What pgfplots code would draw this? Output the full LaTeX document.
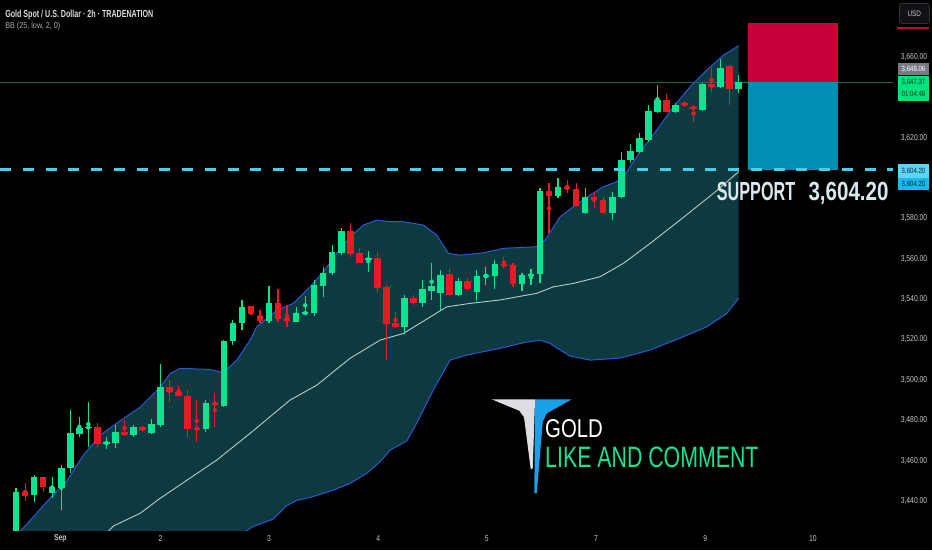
\documentclass[border=0pt]{standalone}
\usepackage{fontspec}
\setmainfont{Liberation Sans}
\newfontfamily\condfont{Liberation Sans}[FakeStretch=0.8]
\usepackage{graphicx}
\usepackage{pgfplots}
\pgfplotsset{compat=1.18}
\usepackage{pgfplotstable}

\definecolor{cgreen}{RGB}{10,228,145}
\definecolor{cred}{RGB}{235,25,35}
\definecolor{bandfill}{RGB}{12,58,64}
\definecolor{bandline}{RGB}{45,88,210}
\definecolor{basisline}{RGB}{185,205,205}
\definecolor{supcyan}{RGB}{70,208,232}
\definecolor{pline}{RGB}{30,105,85}
\definecolor{boxred}{RGB}{200,0,58}
\definecolor{boxblue}{RGB}{0,142,180}
\definecolor{axtext}{RGB}{200,202,208}
\definecolor{taggray}{RGB}{120,123,134}
\definecolor{taggreen}{RGB}{0,228,125}
\definecolor{tagcyanA}{RGB}{90,215,245}
\definecolor{tagcyanB}{RGB}{25,185,235}
\definecolor{logoblue}{RGB}{25,160,230}
\definecolor{logowhite}{RGB}{222,222,226}
\definecolor{suptext}{RGB}{215,232,238}
\definecolor{likegreen}{RGB}{20,228,145}

\pgfplotstableread{
i o h l c
0 3424.0 3446.4 3422.0 3444.4
2 3443.0 3452.8 3439.5 3451.9
4 3444.1 3452.1 3441.3 3446.9
5 3446.4 3457.8 3435.5 3456.5
6 3456.2 3485.0 3454.0 3473.5
7 3473.2 3481.7 3471.8 3476.3
8 3476.1 3489.2 3466.9 3476.8
10 3468.2 3471.8 3465.6 3469.2
11 3468.9 3477.6 3466.1 3474.0
13 3472.7 3477.6 3471.8 3476.5
15 3473.8 3480.6 3473.2 3478.1
16 3477.6 3507.8 3476.5 3496.6
21 3475.5 3490.0 3474.3 3488.7
23 3487.0 3519.7 3486.8 3519.4
24 3519.2 3529.6 3517.3 3528.3
25 3528.0 3539.6 3524.7 3536.2
28 3529.1 3546.5 3528.0 3537.9
31 3528.8 3536.2 3528.5 3533.0
32 3532.6 3541.5 3532.4 3533.6
33 3533.3 3549.5 3531.6 3547.0
34 3546.5 3556.1 3541.0 3552.8
35 3552.8 3566.8 3551.9 3563.5
36 3563.0 3575.1 3561.8 3573.9
39 3559.4 3564.0 3553.6 3560.2
43 3526.3 3542.0 3523.0 3540.7
45 3537.9 3549.5 3536.2 3545.0
46 3544.2 3557.7 3539.6 3546.6
47 3542.9 3554.4 3534.6 3551.9
49 3542.0 3550.3 3541.5 3549.1
51 3543.7 3554.4 3539.2 3551.6
52 3551.2 3555.7 3547.0 3552.0
53 3551.6 3559.4 3545.3 3557.4
56 3547.3 3552.8 3544.2 3551.9
57 3551.4 3554.8 3547.0 3552.4
58 3552.3 3594.9 3547.8 3593.7
60 3591.1 3599.9 3589.9 3595.7
63 3582.8 3594.9 3582.2 3590.7
66 3582.8 3593.2 3579.2 3590.7
67 3590.4 3613.0 3589.9 3608.9
68 3608.9 3616.7 3607.3 3613.5
69 3613.0 3622.2 3612.2 3619.7
70 3618.8 3636.2 3618.0 3633.2
71 3632.9 3646.1 3632.1 3638.7
73 3632.6 3637.0 3632.1 3636.2
76 3633.7 3647.2 3633.2 3646.4
78 3645.2 3658.8 3644.4 3654.8
80 3644.0 3651.0 3642.0 3647.4
}\greentab

\pgfplotstableread{
i o h l c
1 3444.4 3448.9 3440.0 3442.4
3 3451.9 3452.1 3444.4 3446.9
9 3476.5 3478.7 3466.9 3468.2
12 3474.1 3480.1 3472.2 3472.8
14 3476.5 3477.1 3474.6 3475.0
17 3496.6 3499.9 3489.2 3494.0
18 3494.1 3497.4 3491.5 3492.0
19 3492.1 3495.0 3471.0 3475.5
20 3476.3 3490.0 3469.3 3475.5
22 3488.7 3493.3 3476.8 3487.7
26 3536.4 3536.8 3532.1 3532.5
27 3531.5 3534.6 3528.0 3529.1
29 3537.9 3545.0 3528.8 3530.0
30 3530.5 3537.1 3526.0 3529.1
37 3573.9 3577.9 3561.0 3562.3
38 3562.7 3565.2 3557.7 3558.0
40 3560.2 3563.5 3542.9 3545.3
41 3546.2 3547.0 3509.8 3527.7
42 3528.3 3533.8 3525.5 3526.3
44 3540.4 3542.0 3537.1 3537.9
48 3552.3 3555.2 3541.5 3542.0
50 3549.1 3550.3 3544.2 3545.0
54 3557.4 3561.0 3555.3 3556.4
55 3556.9 3557.7 3546.1 3547.3
59 3593.7 3597.4 3572.6 3591.2
61 3595.7 3599.0 3592.4 3594.4
62 3594.4 3597.4 3585.8 3586.1
64 3590.7 3593.2 3585.0 3589.1
65 3589.4 3590.7 3582.2 3582.5
72 3638.7 3641.5 3632.1 3632.9
74 3637.0 3637.8 3635.3 3636.3
75 3635.3 3636.2 3627.9 3634.2
77 3646.4 3654.4 3642.8 3645.2
79 3655.5 3656.0 3636.2 3644.0
}\redtab

\begin{document}
\begin{tikzpicture}
\fill[black] (0,0) rectangle (932pt,550pt);
\begin{axis}[
  at={(0pt,20pt)}, anchor=south west,
  width=893pt, height=530pt, scale only axis,
  xmin=-1.771, xmax=97.08,
  ymin=3425.6, ymax=3688.2,
  axis line style={draw=none},
  major tick length=0pt,
  xtick={4.9,16,28,40.1,52.1,64.2,76.3,88.2},
  xticklabels={\textbf{Sep},2,3,4,5,7,9,10},
  ytick={3440,3460,3480,3500,3520,3540,3560,3580,3620,3660},
  yticklabels={{3,440.00},{3,460.00},{3,480.00},{3,500.00},{3,520.00},{3,540.00},{3,560.00},{3,580.00},{3,620.00},{3,660.00}},
  yticklabel pos=right,
  tick label style={font={\condfont\fontsize{8.5}{10}\selectfont}, color=axtext, inner sep=0pt},
  yticklabel style={anchor=center, xshift=21pt},
  xticklabel style={anchor=center, yshift=-8.7pt},
  clip=true,
]
% Bollinger band area (upper band forward, lower band backward)
\addplot[fill=bandfill, draw=none] coordinates {
(-1.77,3415) (1.00,3427.6) (3.76,3441.4) (5.61,3449.9) (7.45,3462.7) (9.30,3472.6) (11.15,3478.6) (13.73,3486.5) (15.94,3496.4) (17.05,3503.2) (18.15,3505.7) (21.47,3505.2) (22.91,3503.6) (24.43,3509.8) (25.90,3519.7) (26.64,3526.3) (28.86,3534.6) (30.70,3537.9) (32.54,3546.1) (34.02,3553.6) (35.50,3562.7) (36.97,3570.9) (38.44,3576.7) (39.93,3579.2) (41.40,3578.4) (42.87,3578.4) (45.09,3576.7) (46.57,3571.8) (47.85,3562.7) (49.15,3561.8) (51.73,3563.0) (53.94,3565.2) (57.64,3566.0) (58.56,3569.3) (60.22,3580.8) (61.69,3585.8) (63.54,3591.6) (65.01,3595.7) (66.49,3598.2) (67.60,3603.1) (69.07,3613.0) (70.92,3623.8) (72.76,3635.3) (74.61,3645.2) (76.46,3653.5) (78.29,3660.9) (80.00,3665.6)
(80.00,3540.5) (78.67,3532.9) (76.46,3526.3) (73.50,3520.7) (70.18,3514.8) (66.86,3510.8) (63.54,3509.8) (61.32,3511.8) (60.22,3514.8) (59.11,3518.1) (58.00,3519.7) (56.16,3518.4) (53.94,3516.0) (49.89,3512.3) (48.04,3509.8) (46.19,3495.0) (44.35,3478.5) (43.25,3469.7) (41.40,3465.2) (40.29,3459.4) (38.82,3453.7) (36.97,3448.7) (35.12,3445.4) (32.54,3441.7) (31.07,3440.3) (29.96,3437.7) (28.48,3431.0) (26.27,3427.4) (24.80,3423.1) (20.37,3410.7) (9.30,3390.9) (-1.77,3366)} -- cycle;
% upper band
\addplot[color=bandline, line width=1pt] coordinates {
(-1.77,3415) (1.00,3427.6) (3.76,3441.4) (5.61,3449.9) (7.45,3462.7) (9.30,3472.6) (11.15,3478.6) (13.73,3486.5) (15.94,3496.4) (17.05,3503.2) (18.15,3505.7) (21.47,3505.2) (22.91,3503.6) (24.43,3509.8) (25.90,3519.7) (26.64,3526.3) (28.86,3534.6) (30.70,3537.9) (32.54,3546.1) (34.02,3553.6) (35.50,3562.7) (36.97,3570.9) (38.44,3576.7) (39.93,3579.2) (41.40,3578.4) (42.87,3578.4) (45.09,3576.7) (46.57,3571.8) (47.85,3562.7) (49.15,3561.8) (51.73,3563.0) (53.94,3565.2) (57.64,3566.0) (58.56,3569.3) (60.22,3580.8) (61.69,3585.8) (63.54,3591.6) (65.01,3595.7) (66.49,3598.2) (67.60,3603.1) (69.07,3613.0) (70.92,3623.8) (72.76,3635.3) (74.61,3645.2) (76.46,3653.5) (78.29,3660.9) (80.00,3665.6)};
% lower band
\addplot[color=bandline, line width=1pt] coordinates {
(-1.77,3366) (9.30,3390.9) (20.37,3410.7) (24.80,3423.1) (26.27,3427.4) (28.48,3431.0) (29.96,3437.7) (31.07,3440.3) (32.54,3441.7) (35.12,3445.4) (36.97,3448.7) (38.82,3453.7) (40.29,3459.4) (41.40,3465.2) (43.25,3469.7) (44.35,3478.5) (46.19,3495.0) (48.04,3509.8) (49.89,3512.3) (53.94,3516.0) (56.16,3518.4) (58.00,3519.7) (59.11,3518.1) (60.22,3514.8) (61.32,3511.8) (63.54,3509.8) (66.86,3510.8) (70.18,3514.8) (73.50,3520.7) (76.46,3526.3) (78.67,3532.9) (80.00,3540.5)};
% basis
\addplot[color=basisline, line width=0.9pt] coordinates {
(-1.77,3395) (9.30,3420.6) (10.77,3427.6) (13.73,3433.9) (15.94,3441.3) (18.52,3449.1) (22.22,3460.3) (25.90,3473.5) (30.33,3490.0) (33.29,3497.4) (36.97,3510.7) (40.29,3519.7) (42.87,3523.0) (47.67,3536.2) (50.25,3537.9) (53.57,3539.6) (57.64,3542.9) (59.47,3546.1) (61.69,3547.8) (64.64,3551.1) (67.22,3557.7) (70.18,3567.6) (73.50,3579.2) (77.19,3592.4) (80.00,3603.2)};
% current price line
\addplot[color=pline, line width=0.8pt] coordinates {(-1.771,3647.37) (97.08,3647.37)};
% position boxes
\addplot[fill=boxred, draw=none] coordinates {(81.06,3647.4) (91.02,3647.4) (91.02,3676.7) (81.06,3676.7)} -- cycle;
\addplot[fill=boxblue, draw=none] coordinates {(81.06,3604.2) (91.02,3604.2) (91.02,3647.4) (81.06,3647.4)} -- cycle;
% wicks
\addplot[cgreen, only marks, mark=none, error bars/.cd, y dir=both, y explicit, error mark=none,
  error bar style={line width=1.2pt, cgreen}]
  table[x=i, y expr={(\thisrow{h}+\thisrow{l})/2}, y error expr={(\thisrow{h}-\thisrow{l})/2}] {\greentab};
\addplot[cred, only marks, mark=none, error bars/.cd, y dir=both, y explicit, error mark=none,
  error bar style={line width=1.2pt, cred}]
  table[x=i, y expr={(\thisrow{h}+\thisrow{l})/2}, y error expr={(\thisrow{h}-\thisrow{l})/2}] {\redtab};
% bodies
\addplot[cgreen, only marks, mark=none, error bars/.cd, y dir=both, y explicit, error mark=none,
  error bar style={line width=6.5pt, cgreen}]
  table[x=i, y expr={(\thisrow{o}+\thisrow{c})/2}, y error expr={max(abs(\thisrow{c}-\thisrow{o})/2,0.3)}] {\greentab};
\addplot[cred, only marks, mark=none, error bars/.cd, y dir=both, y explicit, error mark=none,
  error bar style={line width=6.5pt, cred}]
  table[x=i, y expr={(\thisrow{o}+\thisrow{c})/2}, y error expr={max(abs(\thisrow{c}-\thisrow{o})/2,0.3)}] {\redtab};
% support line
\addplot[color=supcyan, line width=3pt, dash pattern=on 11pt off 11.75pt] coordinates {(-1.771,3604.2) (97.08,3604.2)};
\end{axis}

\begin{scope}[shift={(0pt,550pt)}, x=1pt, y=-1pt]
  % title
  \node[anchor=base west, inner sep=0pt, text=logowhite] at (5,17.3)
    {\resizebox{148pt}{7.4pt}{\bfseries Gold Spot / U.S. Dollar · 2h · TRADENATION}};
  \node[anchor=base west, inner sep=0pt, text={rgb,255:red,170;green,172;blue,178}] at (5,28.3)
    {\resizebox{55pt}{6.2pt}{BB (25, low, 2, 0)}};
  % USD box
  \draw[rounded corners=2pt, draw={rgb,255:red,70;green,70;blue,80}, fill={rgb,255:red,18;green,18;blue,22}] (899.3,3.3) rectangle (929.3,23.3);
  \node[text=axtext, font={\condfont\fontsize{8}{9}\selectfont}] at (914.3,13.3) {USD};
  \draw[line width=2pt, draw=boxred] (896.7,28.3) -- (929.3,28.3);
  % price tags
  \fill[taggray] (897.7,62.7) rectangle (929.3,74.8);
  \node[text=white, font={\condfont\fontsize{7.6}{9}\selectfont}] at (913.5,68.8) {3,648.06};
  \fill[taggreen] (897.7,75.5) rectangle (929.3,100.7);
  \node[text={rgb,255:red,5;green,45;blue,30}, font={\condfont\fontsize{7.6}{9}\selectfont}] at (913.5,82) {3,647.37};
  \node[text={rgb,255:red,5;green,45;blue,30}, font={\condfont\fontsize{7.6}{9}\selectfont}] at (913.5,93.6) {01:04:49};
  \fill[tagcyanA] (897.7,164) rectangle (929.3,177.6);
  \node[text={rgb,255:red,5;green,40;blue,55}, font={\condfont\fontsize{7.6}{9}\selectfont}] at (913.5,170.8) {3,604.20};
  \fill[tagcyanB] (897.7,177.6) rectangle (929.3,190.3);
  \node[text={rgb,255:red,5;green,40;blue,55}, font={\condfont\fontsize{7.6}{9}\selectfont}] at (913.5,184) {3,604.20};
  % support text
  \node[anchor=base west, inner sep=0pt, text=suptext] at (716.7,200) {\resizebox{78.3pt}{18.3pt}{\bfseries SUPPORT}};
  \node[anchor=base west, inner sep=0pt, text=suptext] at (808.3,200) {\resizebox{80pt}{18.3pt}{\bfseries 3,604.20}};
  % logo
  \fill[logowhite] (491.7,399.3) -- (535,399.3) -- (532.7,468.3) -- (530.7,469.3) -- (524,417.3) -- (519.3,410.7) -- cycle;
  \fill[logoblue] (535,399.3) -- (571.7,399.3) -- (546.7,413.3) -- (542.7,421.7) -- (536.7,493.3) -- (534.3,493.3) -- cycle;
  \node[anchor=base west, inner sep=0pt, text=white] at (545,437.3) {\resizebox{57.7pt}{18pt}{GOLD}};
  \node[anchor=base west, inner sep=0pt, text=likegreen] at (545,467.3) {\resizebox{213.3pt}{20.6pt}{LIKE AND COMMENT}};
\end{scope}
\end{tikzpicture}
\end{document}
